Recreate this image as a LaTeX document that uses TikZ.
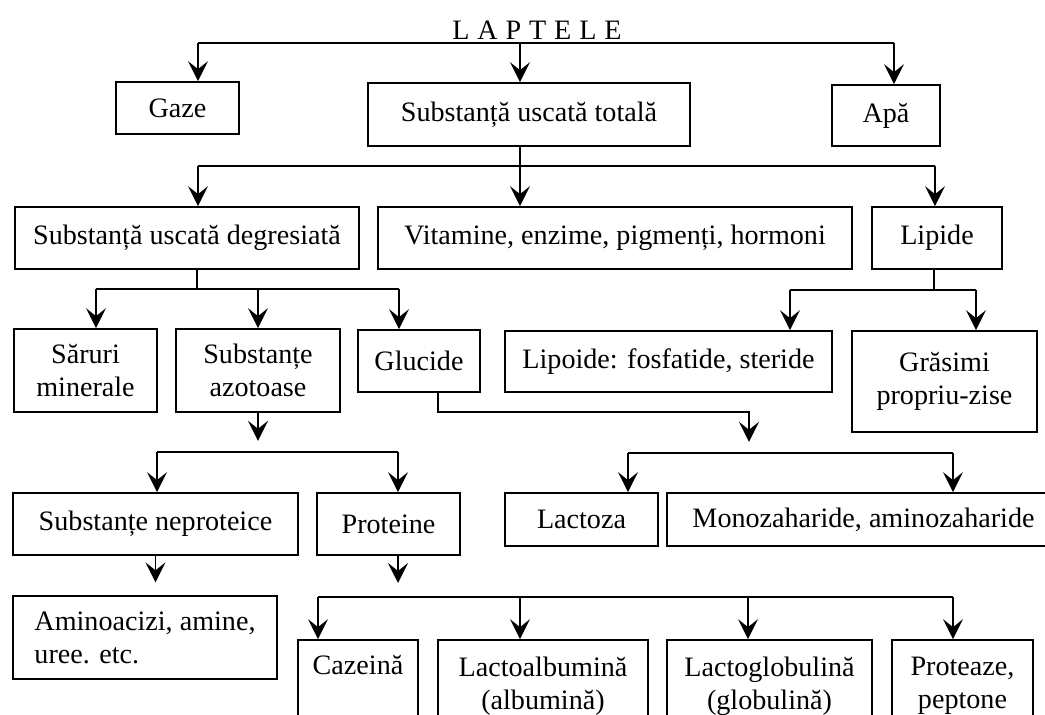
\documentclass[tikz,border=0pt]{standalone}
\usepackage{fontspec}
\setmainfont{Liberation Serif}
\usetikzlibrary{arrows.meta}

\begin{document}
\begin{tikzpicture}[
    x=0.025cm, y=-0.025cm,
    box/.style={rectangle, draw, line width=1.2pt, inner sep=0pt, align=center, font=\fontsize{20}{23.5}\selectfont},
    boxsize/.style 2 args={minimum width=#1*0.025cm, minimum height=#2*0.025cm},
    title/.style={inner sep=0pt, font=\fontsize{20}{22}\selectfont},
    link/.style={line width=1.2pt},
    >={Stealth[length=0.5cm, width=0.5cm, inset=0.2cm]}
]
\clip (0,0) rectangle (1045,715);

% Title
\node[title] (lapte) at (537,30) {\spaceskip=.28em L A P T E L E};

% Level 1
\node[box, boxsize={123}{52}] (gaze) at (177.5,108) {Gaze};
\node[box, boxsize={322}{63}] (sut) at (529,114.5) {Substanță uscată totală};
\node[box, boxsize={108}{61}] (apa) at (886,115.5) {Apă};

% Level 2
\node[box, boxsize={344}{62}] (sud) at (187,238) {Substanță uscată degresiată};
\node[box, boxsize={474}{62}] (vit) at (615,238) {Vitamine, enzime, pigmenți, hormoni};
\node[box, boxsize={130}{62}] (lip) at (937,238) {Lipide};

% Level 3
\node[box, boxsize={143}{83}] (sar) at (85.5,370.5) {Săruri\\minerale};
\node[box, boxsize={164}{83}] (azo) at (258,370.5) {Substanțe\\azotoase};
\node[box, boxsize={122}{62}] (glu) at (419,361) {Glucide};
\node[box, boxsize={327}{61}] (lpd) at (668.5,361.5) {Lipoide: fosfatide, steride};
\node[box, boxsize={185}{101}] (gras) at (944.5,381.5) {Grăsimi\\propriu-zise};

% Level 4
\node[box, boxsize={285}{62}] (nep) at (155.5,524) {Substanțe neproteice};
\node[box, boxsize={143}{62}] (prot) at (388.5,524) {Proteine};
\node[box, boxsize={153}{53}] (lact) at (581.5,519.5) {Lactoza};
\node[box, boxsize={393}{53}] (mono) at (863.5,519.5) {Monozaharide, aminozaharide};

% Level 5
\node[box, boxsize={264}{83}, align=left] (amino) at (145,637.5) {Aminoacizi, amine,\\uree. etc.};
\node[box, boxsize={120}{92}] (caz) at (358,686) {Cazeină\\\strut};
\node[box, boxsize={210}{92}] (lalb) at (543,686) {Lactoalbumină\\(albumină)};
\node[box, boxsize={205}{92}] (lglo) at (769.5,686) {Lactoglobulină\\(globulină)};
\node[box, boxsize={141}{92}] (prtz) at (962.5,686) {Proteaze,\\peptone};

% Laptele -> level 1
\coordinate (l1) at (198,43);
\coordinate (l2) at (520,43);
\coordinate (l3) at (894,43);
\draw[link] (l1) -- (l3);
\draw[link, ->] (l1) -- (l1 |- gaze.north);
\draw[link, ->] (l2) -- (l2 |- sut.north);
\draw[link, ->] (l3) -- (l3 |- apa.north);

% Substanta uscata totala -> level 2
\coordinate (s1) at (198,166);
\coordinate (s2) at (520,166);
\coordinate (s3) at (935,166);
\draw[link] (s2 |- sut.south) -- (s2);
\draw[link] (s1) -- (s3);
\draw[link, ->] (s1) -- (s1 |- sud.north);
\draw[link, ->] (s2) -- (s2 |- vit.north);
\draw[link, ->] (s3) -- (s3 |- lip.north);

% Substanta uscata degresiata -> level 3
\coordinate (d0) at (197,289);
\coordinate (d1) at (96,289);
\coordinate (d2) at (258,289);
\coordinate (d3) at (399,289);
\draw[link] (d0 |- sud.south) -- (d0);
\draw[link] (d1) -- (d3);
\draw[link, ->] (d1) -- (d1 |- sar.north);
\draw[link, ->] (d2) -- (d2 |- azo.north);
\draw[link, ->] (d3) -- (d3 |- glu.north);

% Lipide
\coordinate (p0) at (934,290);
\coordinate (p1) at (790,290);
\coordinate (p2) at (976,290);
\draw[link] (p0 |- lip.south) -- (p0);
\draw[link] (p1) -- (p2);
\draw[link, ->] (p1) -- (p1 |- lpd.north);
\draw[link, ->] (p2) -- (p2 |- gras.north);

% Glucide
\coordinate (g0) at (438,412);
\coordinate (g1) at (749,412);
\coordinate (g2) at (749,453);
\coordinate (g3) at (628,453);
\coordinate (g4) at (953,453);
\draw[link, ->, shorten >=0.28cm] (g0 |- glu.south) -- (g0) -- (g1) -- (g2);
\draw[link] (g3) -- (g4);
\draw[link, ->] (g3) -- (g3 |- lact.north);
\draw[link, ->] (g4) -- (g4 |- mono.north);

% Substante azotoase
\coordinate (a0) at (258,452);
\coordinate (a1) at (157,452);
\coordinate (a2) at (398,452);
\draw[link, ->, shorten >=0.28cm] (a0 |- azo.south) -- (a0);
\draw[link] (a1) -- (a2);
\draw[link, ->] (a1) -- (a1 |- nep.north);
\draw[link, ->] (a2) -- (a2 |- prot.north);

% Substante neproteice
\draw[link, ->, shorten >=0.32cm] (nep.south) -- (nep.south |- amino.north);

% Proteine
\coordinate (r0) at (398,597);
\coordinate (r1) at (318,597);
\coordinate (r2) at (520,597);
\coordinate (r3) at (748,597);
\coordinate (r4) at (953,597);
\draw[link, ->, shorten >=0.35cm] (r0 |- prot.south) -- (r0);
\draw[link] (r1) -- (r4);
\draw[link, ->] (r1) -- (r1 |- caz.north);
\draw[link, ->] (r2) -- (r2 |- lalb.north);
\draw[link, ->] (r3) -- (r3 |- lglo.north);
\draw[link, ->] (r4) -- (r4 |- prtz.north);

\end{tikzpicture}
\end{document}
